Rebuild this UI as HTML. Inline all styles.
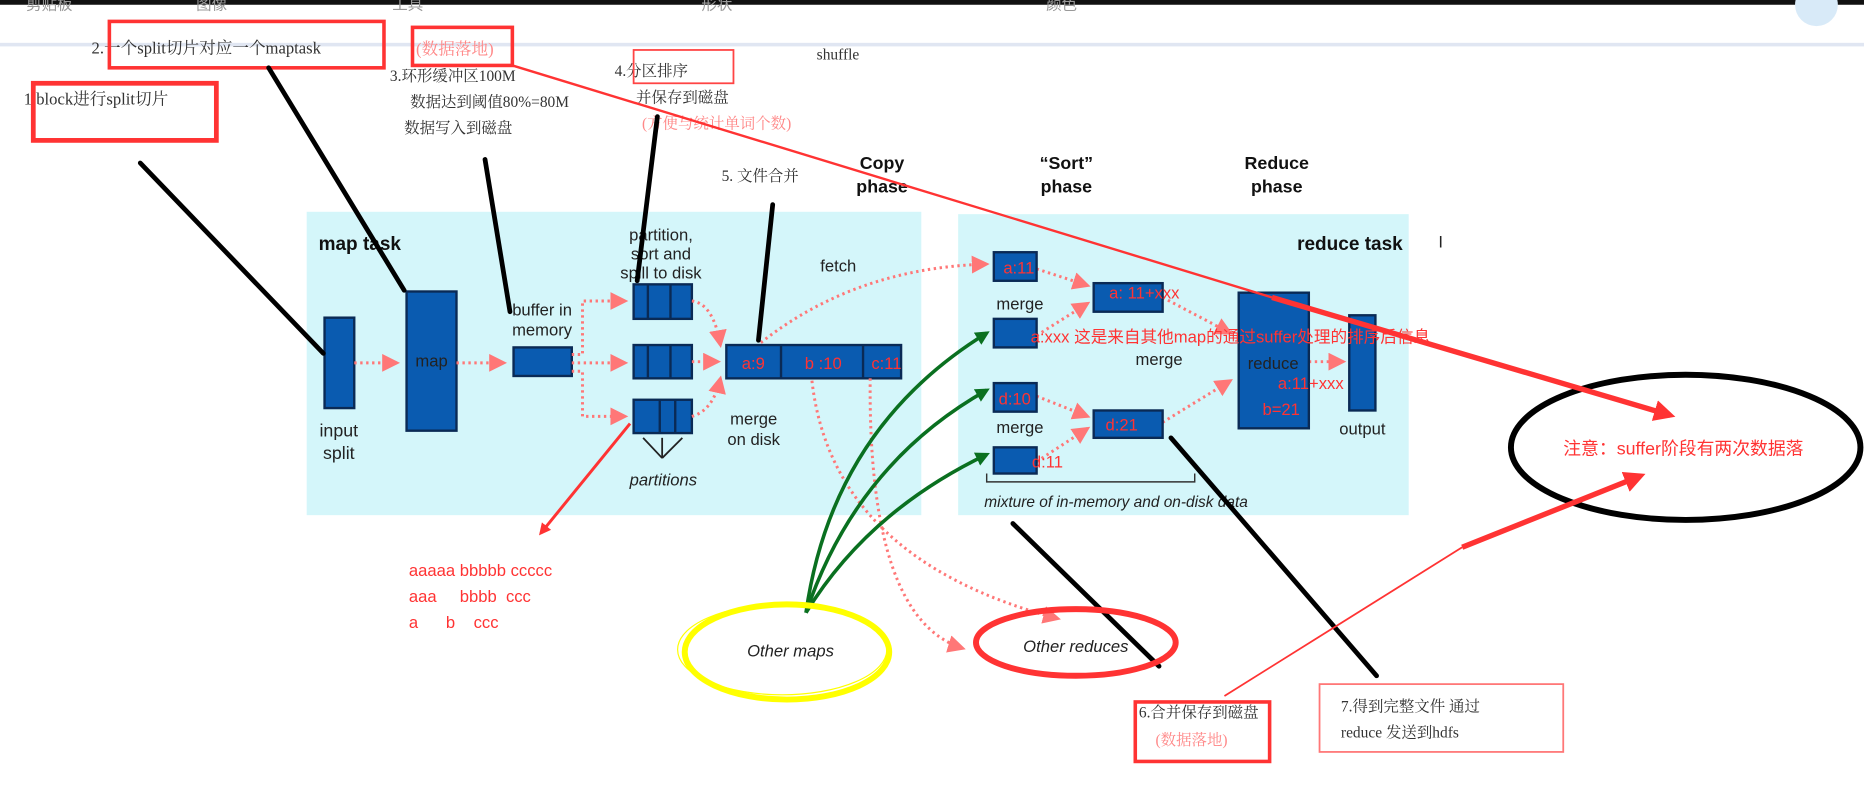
<!DOCTYPE html>
<html><head><meta charset="utf-8"><style>
html,body{margin:0;padding:0;background:#fff;width:1864px;height:790px;overflow:hidden}
svg{display:block}
.s{font-family:"Liberation Serif","Noto Serif CJK SC","Noto Sans CJK SC",serif;fill:#333}
.n{font-family:"Liberation Sans","Noto Sans CJK SC",sans-serif}
.b{font-family:"Liberation Sans",sans-serif;font-weight:bold;fill:#111}
.d{font-family:"Liberation Sans",sans-serif;fill:#222}
.r{fill:#f33}
.p{fill:#f88}
.blk{fill:#0a5bb0;stroke:#0a2a55;stroke-width:2}
</style></head><body>
<svg width="1864" height="790" viewBox="0 0 1568 664" preserveAspectRatio="none">
<defs>
<marker id="pa" markerWidth="6" markerHeight="6" refX="5" refY="3" orient="auto"><path d="M0,0L6,3L0,6z" fill="#f77"/></marker>
<marker id="ra" markerWidth="4" markerHeight="4" refX="3" refY="2" orient="auto"><path d="M0,0L4,2L0,4z" fill="#f33"/></marker>
<marker id="ga" markerWidth="4" markerHeight="4" refX="3" refY="2" orient="auto"><path d="M0,0L4,2L0,4z" fill="#0a7020"/></marker>
</defs>
<rect x="0" y="0" width="1568" height="4" fill="#111"/>
<g class="n" fill="#999" font-size="13"><text x="22" y="8">剪贴板</text><text x="165" y="8">图像</text><text x="330" y="8">工具</text><text x="590" y="8">形状</text><text x="880" y="8">颜色</text></g>
<rect x="0" y="36" width="1568" height="3" fill="#e0e6f2"/>
<circle cx="1528" cy="4" r="18" fill="#d8eaf8"/>

<!-- light boxes -->
<rect x="258" y="178" width="517" height="255" fill="#d4f6fa"/>
<rect x="806" y="180" width="379" height="253" fill="#d4f6fa"/>

<!-- top texts -->
<text class="s" x="77" y="45" font-size="14">2.一个split切片对应一个maptask</text>
<rect x="92" y="18" width="231" height="39" fill="none" stroke="#f33" stroke-width="3"/>
<text class="s p" x="350" y="46" font-size="14">(数据落地)</text>
<rect x="347" y="23" width="84" height="32" fill="none" stroke="#f33" stroke-width="3"/>
<text class="s" x="20" y="88" font-size="14">1.block进行split切片</text>
<rect x="28" y="70" width="154" height="48" fill="none" stroke="#f33" stroke-width="4"/>
<text class="s" x="328" y="68" font-size="13">3.环形缓冲区100M</text>
<text class="s" x="345" y="90" font-size="13">数据达到阈值80%=80M</text>
<text class="s" x="340" y="112" font-size="13">数据写入到磁盘</text>
<text class="s" x="517" y="64" font-size="13">4.分区排序</text>
<rect x="533" y="42" width="84" height="28" fill="none" stroke="#f44" stroke-width="1.5"/>
<text class="s" x="535" y="86" font-size="13">并保存到磁盘</text>
<text class="s p" x="540" y="108" font-size="13">(方便与统计单词个数)</text>
<text class="s" x="687" y="50" font-size="13">shuffle</text>
<text class="s" x="607" y="152" font-size="13">5. 文件合并</text>
<g class="b" font-size="15" text-anchor="middle"><text x="742" y="142">Copy</text><text x="742" y="162">phase</text>
<text x="897" y="142">“Sort”</text><text x="897" y="162">phase</text>
<text x="1074" y="142">Reduce</text><text x="1074" y="162">phase</text></g>
<text class="b" x="268" y="210" font-size="16">map task</text>
<text class="b" x="1180" y="210" font-size="16" text-anchor="end">reduce task</text>
<text class="d" x="1210" y="208" font-size="14" fill="#666">I</text>

<!-- map side -->
<rect class="blk" x="273" y="267" width="25" height="76"/>
<text class="d" x="285" y="367" font-size="15" text-anchor="middle">input</text>
<text class="d" x="285" y="386" font-size="15" text-anchor="middle">split</text>
<rect class="blk" x="342" y="245" width="42" height="117"/>
<text class="d" x="363" y="308" font-size="14" text-anchor="middle" fill="#5cf">map</text>
<rect class="blk" x="432" y="292" width="49" height="24"/>
<text class="d" x="456" y="265" font-size="14" text-anchor="middle">buffer in</text>
<text class="d" x="456" y="282" font-size="14" text-anchor="middle">memory</text>
<text class="d" x="556" y="202" font-size="14" text-anchor="middle">partition,</text>
<text class="d" x="556" y="218" font-size="14" text-anchor="middle">sort and</text>
<text class="d" x="556" y="234" font-size="14" text-anchor="middle">spill to disk</text>
<g><rect class="blk" x="533" y="239" width="49" height="29"/><line x1="545" y1="239" x2="545" y2="268" stroke="#0a2a55" stroke-width="2"/><line x1="564" y1="239" x2="564" y2="268" stroke="#0a2a55" stroke-width="2"/>
<rect class="blk" x="533" y="290" width="49" height="28"/><line x1="545" y1="290" x2="545" y2="318" stroke="#0a2a55" stroke-width="2"/><line x1="564" y1="290" x2="564" y2="318" stroke="#0a2a55" stroke-width="2"/>
<rect class="blk" x="533" y="336" width="49" height="28"/><line x1="555" y1="336" x2="555" y2="364" stroke="#0a2a55" stroke-width="2"/><line x1="568" y1="336" x2="568" y2="364" stroke="#0a2a55" stroke-width="2"/></g>
<rect class="blk" x="611" y="290" width="147" height="28"/>
<line x1="657" y1="290" x2="657" y2="318" stroke="#0a2a55" stroke-width="2"/><line x1="726" y1="290" x2="726" y2="318" stroke="#0a2a55" stroke-width="2"/>
<g class="n r" font-size="14"><text x="624" y="310">a:9</text><text x="677" y="310">b :10</text><text x="733" y="310">c:11</text></g>
<text class="d" x="634" y="357" font-size="14" text-anchor="middle">merge</text>
<text class="d" x="634" y="374" font-size="14" text-anchor="middle">on disk</text>
<text class="d" x="558" y="408" font-size="14" text-anchor="middle" font-style="italic">partitions</text>
<g stroke="#222" stroke-width="1.5"><line x1="557" y1="385" x2="541" y2="368"/><line x1="557" y1="385" x2="557" y2="368"/><line x1="557" y1="385" x2="574" y2="368"/></g>
<text class="d" x="690" y="228" font-size="14">fetch</text>
<g fill="none" stroke="#f77" stroke-width="2.5" stroke-dasharray="2,3" marker-end="url(#pa)">
<path d="M298,305H334"/><path d="M384,305H424"/>
<path d="M481,298H490V253H526"/><path d="M481,305H526"/><path d="M481,312H490V350H526"/>
<path d="M582,253Q600,255 606,290"/><path d="M582,304H604"/><path d="M582,350Q600,345 606,318"/>
<path d="M640,288Q720,225 830,222"/>
<path d="M683,320Q700,470 890,520"/>
<path d="M732,318Q730,520 810,545"/>
<path d="M872,226L915,240"/><path d="M872,282L915,255"/><path d="M872,333L915,350"/><path d="M872,388L915,360"/>
<path d="M978,250L1035,280"/><path d="M978,355L1035,320"/><path d="M1101,304H1130"/>
</g>

<!-- reduce side -->
<g>
<rect class="blk" x="836" y="212" width="36" height="24"/><rect class="blk" x="836" y="268" width="36" height="24"/>
<rect class="blk" x="836" y="322" width="36" height="24"/><rect class="blk" x="836" y="376" width="36" height="22"/>
<rect class="blk" x="920" y="238" width="58" height="24"/><rect class="blk" x="920" y="345" width="58" height="23"/>
<rect class="blk" x="1042" y="246" width="59" height="114"/><rect class="blk" x="1135" y="265" width="22" height="80"/>
</g>
<g class="d" font-size="14" text-anchor="middle"><text x="858" y="260">merge</text><text x="975" y="307">merge</text><text x="858" y="364">merge</text><text x="1146" y="365">output</text></g>
<text class="d" x="1071" y="310" font-size="14" text-anchor="middle" fill="#5ef">reduce</text>
<polyline points="830,398 830,405 1005,405 1005,398" fill="none" stroke="#333" stroke-width="1.2"/>
<text class="d" x="828" y="426" font-size="13" font-style="italic">mixture of in-memory and on-disk data</text>
<g class="n r" font-size="14"><text x="844" y="230">a:11</text><text x="933" y="251">a:  11+xxx</text>
<text x="840" y="340">d:10</text><text x="868" y="393">d:11</text><text x="930" y="362">d:21</text>
<text x="1075" y="327">a:11+xxx</text><text x="1062" y="349">b=21</text>
<text x="867" y="288">a:xxx 这是来自其他map的通过suffer处理的排序后信息</text></g>

<!-- black pointer lines -->
<g stroke="#000" stroke-width="4" stroke-linecap="round">
<line x1="118" y1="137" x2="272" y2="297"/><line x1="226" y1="57" x2="340" y2="244"/>
<line x1="408" y1="134" x2="429" y2="262"/><line x1="553" y1="98" x2="536" y2="236"/>
<line x1="650" y1="172" x2="638" y2="286"/><line x1="852" y1="440" x2="975" y2="560"/>
<line x1="985" y1="368" x2="1158" y2="568"/>
</g>
<ellipse cx="1418" cy="376" rx="147" ry="61" fill="none" stroke="#000" stroke-width="5"/>
<text class="n r" x="1315" y="382" font-size="15">注意：suffer阶段有两次数据落</text>

<!-- red arrows -->
<line x1="431" y1="55" x2="1070" y2="250" stroke="#f33" stroke-width="2"/>
<line x1="1070" y1="250" x2="1405" y2="349" stroke="#f33" stroke-width="4.5" marker-end="url(#ra)"/>
<line x1="1030" y1="585" x2="1230" y2="460" stroke="#f33" stroke-width="1.5"/>
<line x1="1230" y1="460" x2="1380" y2="400" stroke="#f33" stroke-width="4.5" marker-end="url(#ra)"/>
<line x1="530" y1="356" x2="455" y2="448" stroke="#f33" stroke-width="2.5" marker-end="url(#ra)"/>
<g class="n r" font-size="14"><text x="344" y="484">aaaaa bbbbb ccccc</text><text x="344" y="506">aaa &#160;&#160;&#160;&#160;bbbb &#160;ccc</text><text x="344" y="528">a &#160;&#160;&#160;&#160;&#160;b &#160;&#160;&#160;ccc</text></g>

<!-- green arrows -->
<g fill="none" stroke="#0a7020" stroke-width="3" marker-end="url(#ga)">
<path d="M678,515Q700,360 830,280"/><path d="M678,515Q720,390 830,328"/><path d="M678,515Q730,430 830,382"/>
</g>
<ellipse cx="662" cy="548" rx="86" ry="40" fill="none" stroke="#ff0" stroke-width="5"/>
<ellipse cx="658" cy="546" rx="88" ry="38" fill="none" stroke="#ff0" stroke-width="1"/>
<text class="d" x="665" y="552" font-size="14" font-style="italic" text-anchor="middle">Other maps</text>
<ellipse cx="905" cy="540" rx="84" ry="28" fill="none" stroke="#f33" stroke-width="5"/>
<text class="d" x="905" y="548" font-size="14" font-style="italic" text-anchor="middle">Other reduces</text>

<!-- bottom boxes -->
<text class="s" x="958" y="603" font-size="13">6.合并保存到磁盘</text>
<rect x="955" y="590" width="113" height="50" fill="none" stroke="#f33" stroke-width="3"/>
<text class="s p" x="972" y="626" font-size="13">(数据落地)</text>
<rect x="1110" y="575" width="205" height="57" fill="none" stroke="#f77" stroke-width="1.5"/>
<text class="s" x="1128" y="598" font-size="13">7.得到完整文件  通过</text>
<text class="s" x="1128" y="620" font-size="13">reduce 发送到hdfs</text>
</svg>
</body></html>
